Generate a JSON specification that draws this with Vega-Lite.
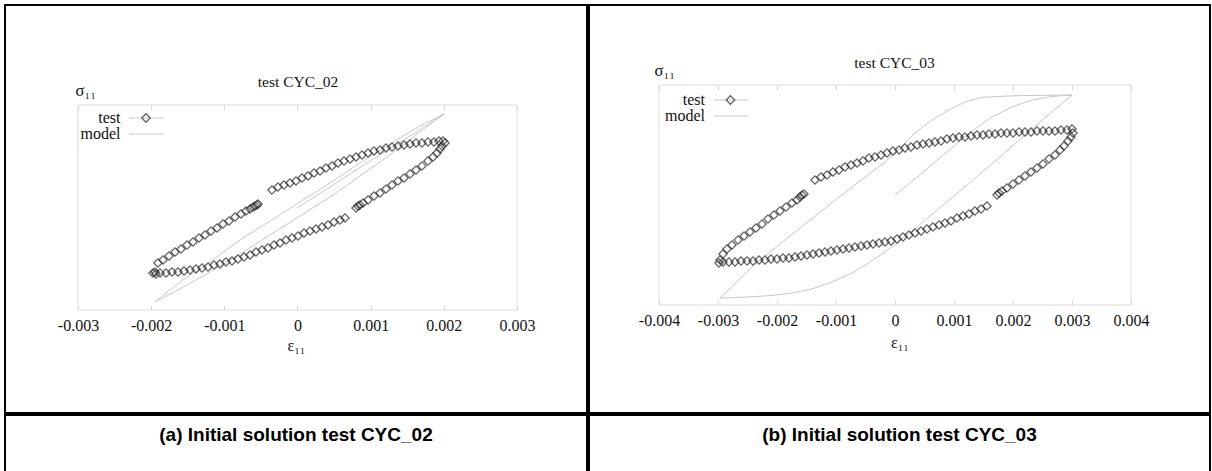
{
 "$schema": "https://vega.github.io/schema/vega-lite/v6.json",
 "padding": {"left": 4, "top": 4, "right": 0, "bottom": 0},
 "background": "white",
 "config": {"view": {"stroke": "#000", "strokeWidth": 2}, "concat": {"spacing": 0}, "font": "Liberation Serif"},
 "datasets": {
  "a_test": [
   {"strain":-0.001947,"stress":-188.8},{"strain":-0.001907,"stress":-162.4},{"strain":-0.001838,"stress":-153.7},{"strain":-0.001756,"stress":-141.9},{"strain":-0.001674,"stress":-130.2},{"strain":-0.001592,"stress":-121.5},{"strain":-0.001510,"stress":-109.8},{"strain":-0.001428,"stress":-101.0},{"strain":-0.001346,"stress":-89.3},{"strain":-0.001264,"stress":-80.5},{"strain":-0.001182,"stress":-68.8},{"strain":-0.001100,"stress":-60.0},{"strain":-0.001018,"stress":-48.3},{"strain":-0.000936,"stress":-39.5},{"strain":-0.000854,"stress":-27.8},{"strain":-0.000772,"stress":-19.0},{"strain":-0.000704,"stress":-10.2},{"strain":-0.000649,"stress":-4.4},{"strain":-0.000608,"stress":1.5},{"strain":-0.000581,"stress":4.4},{"strain":-0.000553,"stress":7.3},{"strain":-0.000540,"stress":10.2},
   {"strain":-0.000349,"stress":51.2},{"strain":-0.000267,"stress":60.0},{"strain":-0.000185,"stress":65.9},{"strain":-0.000103,"stress":71.7},{"strain":-0.000021,"stress":77.6},{"strain":0.000062,"stress":86.3},{"strain":0.000144,"stress":92.2},{"strain":0.000226,"stress":101.0},{"strain":0.000308,"stress":106.8},{"strain":0.000390,"stress":115.6},{"strain":0.000472,"stress":121.5},{"strain":0.000554,"stress":130.2},{"strain":0.000636,"stress":136.1},{"strain":0.000718,"stress":142.0},{"strain":0.000800,"stress":147.8},{"strain":0.000882,"stress":153.7},{"strain":0.000964,"stress":159.5},{"strain":0.001046,"stress":165.4},{"strain":0.001128,"stress":168.3},{"strain":0.001210,"stress":174.1},{"strain":0.001292,"stress":177.1},{"strain":0.001374,"stress":180.0},{"strain":0.001456,"stress":182.9},{"strain":0.001538,"stress":185.9},{"strain":0.001620,"stress":188.8},{"strain":0.001701,"stress":188.8},{"strain":0.001783,"stress":191.7},{"strain":0.001865,"stress":191.7},{"strain":0.001934,"stress":194.6},{"strain":0.001989,"stress":194.6},{"strain":0.002016,"stress":188.8},
   {"strain":-0.001975,"stress":-191.7},{"strain":-0.001934,"stress":-194.6},{"strain":-0.001879,"stress":-191.7},{"strain":-0.001797,"stress":-191.7},{"strain":-0.001715,"stress":-188.8},{"strain":-0.001633,"stress":-188.8},{"strain":-0.001551,"stress":-185.9},{"strain":-0.001469,"stress":-182.9},{"strain":-0.001387,"stress":-180.0},{"strain":-0.001305,"stress":-177.1},{"strain":-0.001223,"stress":-174.1},{"strain":-0.001141,"stress":-168.3},{"strain":-0.001059,"stress":-165.4},{"strain":-0.000977,"stress":-159.5},{"strain":-0.000895,"stress":-156.6},{"strain":-0.000813,"stress":-150.7},{"strain":-0.000731,"stress":-144.9},{"strain":-0.000649,"stress":-139.0},{"strain":-0.000567,"stress":-130.2},{"strain":-0.000485,"stress":-124.4},{"strain":-0.000403,"stress":-118.5},{"strain":-0.000321,"stress":-109.8},{"strain":-0.000239,"stress":-103.9},{"strain":-0.000157,"stress":-95.1},{"strain":-0.000075,"stress":-89.3},{"strain":0.000007,"stress":-83.4},{"strain":0.000089,"stress":-74.6},{"strain":0.000171,"stress":-68.8},{"strain":0.000253,"stress":-62.9},{"strain":0.000335,"stress":-57.1},{"strain":0.000417,"stress":-51.2},{"strain":0.000499,"stress":-42.4},{"strain":0.000581,"stress":-36.6},{"strain":0.000649,"stress":-30.7},
   {"strain":0.000800,"stress":-1.5},{"strain":0.000827,"stress":4.4},{"strain":0.000854,"stress":7.3},{"strain":0.000896,"stress":13.2},{"strain":0.000964,"stress":22.0},{"strain":0.001046,"stress":33.7},{"strain":0.001128,"stress":42.4},{"strain":0.001210,"stress":54.1},{"strain":0.001292,"stress":65.9},{"strain":0.001374,"stress":77.6},{"strain":0.001456,"stress":86.3},{"strain":0.001538,"stress":98.0},{"strain":0.001620,"stress":109.8},{"strain":0.001701,"stress":121.5},{"strain":0.001783,"stress":136.1},{"strain":0.001852,"stress":147.8},{"strain":0.001907,"stress":159.5},{"strain":0.001947,"stress":171.2},{"strain":0.001975,"stress":180.0}
  ],
  "a_model": [
   {"strain":0,"stress":0},{"strain":0.000444,"stress":60.0},{"strain":0.000991,"stress":136.1},{"strain":0.001538,"stress":209.3},{"strain":0.002002,"stress":273.7},
   {"strain":0.001674,"stress":221.0},{"strain":0.001264,"stress":153.7},{"strain":0.000854,"stress":92.2},{"strain":0.000444,"stress":30.7},{"strain":0.000034,"stress":-24.9},{"strain":-0.000376,"stress":-80.5},{"strain":-0.000786,"stress":-136.1},{"strain":-0.001196,"stress":-188.8},{"strain":-0.001606,"stress":-238.5},{"strain":-0.001948,"stress":-275.7},
   {"strain":-0.001606,"stress":-218.1},{"strain":-0.001196,"stress":-159.5},{"strain":-0.000786,"stress":-95.1},{"strain":-0.000376,"stress":-39.5},{"strain":0.000034,"stress":16.1},{"strain":0.000444,"stress":71.7},{"strain":0.000854,"stress":130.2},{"strain":0.001264,"stress":185.9},{"strain":0.001674,"stress":238.5},{"strain":0.002002,"stress":273.7}
  ],
  "b_test": [
   {"strain":-0.002966,"stress":-177.3},{"strain":-0.002915,"stress":-160.9},{"strain":-0.002847,"stress":-147.3},{"strain":-0.002763,"stress":-136.4},{"strain":-0.002661,"stress":-122.7},{"strain":-0.002559,"stress":-111.8},{"strain":-0.002458,"stress":-100.9},{"strain":-0.002356,"stress":-90.0},{"strain":-0.002254,"stress":-79.1},{"strain":-0.002153,"stress":-65.5},{"strain":-0.002051,"stress":-54.5},{"strain":-0.001949,"stress":-43.6},{"strain":-0.001847,"stress":-32.7},{"strain":-0.001746,"stress":-21.8},{"strain":-0.001661,"stress":-13.6},{"strain":-0.001610,"stress":-5.5},{"strain":-0.001576,"stress":0},{"strain":-0.001542,"stress":2.7},
   {"strain":-0.001356,"stress":40.9},{"strain":-0.001254,"stress":49.1},{"strain":-0.001153,"stress":54.5},{"strain":-0.001051,"stress":62.7},{"strain":-0.000949,"stress":68.2},{"strain":-0.000847,"stress":76.4},{"strain":-0.000746,"stress":81.8},{"strain":-0.000644,"stress":87.3},{"strain":-0.000542,"stress":92.7},{"strain":-0.000441,"stress":100.9},{"strain":-0.000339,"stress":103.6},{"strain":-0.000237,"stress":109.1},{"strain":-0.000136,"stress":114.5},{"strain":-0.000034,"stress":120.0},{"strain":0.000068,"stress":122.7},{"strain":0.000169,"stress":128.2},{"strain":0.000271,"stress":130.9},{"strain":0.000373,"stress":136.4},{"strain":0.000475,"stress":139.1},{"strain":0.000576,"stress":141.8},{"strain":0.000678,"stress":144.5},{"strain":0.000780,"stress":147.3},{"strain":0.000881,"stress":152.7},{"strain":0.000983,"stress":155.5},{"strain":0.001085,"stress":158.2},{"strain":0.001186,"stress":158.2},{"strain":0.001288,"stress":160.9},{"strain":0.001390,"stress":163.6},{"strain":0.001492,"stress":163.6},{"strain":0.001593,"stress":166.4},{"strain":0.001695,"stress":166.4},{"strain":0.001797,"stress":169.1},{"strain":0.001898,"stress":169.1},{"strain":0.002000,"stress":169.1},{"strain":0.002102,"stress":171.8},{"strain":0.002203,"stress":171.8},{"strain":0.002305,"stress":171.8},{"strain":0.002407,"stress":174.5},{"strain":0.002508,"stress":174.5},{"strain":0.002610,"stress":174.5},{"strain":0.002712,"stress":174.5},{"strain":0.002814,"stress":177.3},{"strain":0.002915,"stress":177.3},{"strain":0.003000,"stress":180.0},
   {"strain":-0.002983,"stress":-185.5},{"strain":-0.002915,"stress":-182.7},{"strain":-0.002814,"stress":-182.7},{"strain":-0.002712,"stress":-182.7},{"strain":-0.002610,"stress":-180.0},{"strain":-0.002508,"stress":-180.0},{"strain":-0.002407,"stress":-180.0},{"strain":-0.002305,"stress":-177.3},{"strain":-0.002203,"stress":-177.3},{"strain":-0.002102,"stress":-174.5},{"strain":-0.002000,"stress":-174.5},{"strain":-0.001898,"stress":-171.8},{"strain":-0.001797,"stress":-171.8},{"strain":-0.001695,"stress":-169.1},{"strain":-0.001593,"stress":-166.4},{"strain":-0.001492,"stress":-163.6},{"strain":-0.001390,"stress":-160.9},{"strain":-0.001288,"stress":-158.2},{"strain":-0.001186,"stress":-155.5},{"strain":-0.001085,"stress":-152.7},{"strain":-0.000983,"stress":-150.0},{"strain":-0.000881,"stress":-147.3},{"strain":-0.000780,"stress":-144.5},{"strain":-0.000678,"stress":-141.8},{"strain":-0.000576,"stress":-139.1},{"strain":-0.000475,"stress":-136.4},{"strain":-0.000373,"stress":-133.6},{"strain":-0.000271,"stress":-130.9},{"strain":-0.000169,"stress":-128.2},{"strain":-0.000068,"stress":-125.5},{"strain":0.000034,"stress":-120.0},{"strain":0.000136,"stress":-114.5},{"strain":0.000237,"stress":-109.1},{"strain":0.000339,"stress":-103.6},{"strain":0.000441,"stress":-98.2},{"strain":0.000542,"stress":-92.7},{"strain":0.000644,"stress":-87.3},{"strain":0.000746,"stress":-81.8},{"strain":0.000847,"stress":-76.4},{"strain":0.000949,"stress":-70.9},{"strain":0.001051,"stress":-62.7},{"strain":0.001153,"stress":-57.3},{"strain":0.001254,"stress":-51.8},{"strain":0.001356,"stress":-43.6},{"strain":0.001458,"stress":-38.2},{"strain":0.001559,"stress":-30.0},
   {"strain":0.001729,"stress":0},{"strain":0.001763,"stress":5.5},{"strain":0.001814,"stress":10.9},{"strain":0.001898,"stress":19.1},{"strain":0.002000,"stress":30.0},{"strain":0.002102,"stress":40.9},{"strain":0.002203,"stress":51.8},{"strain":0.002305,"stress":62.7},{"strain":0.002407,"stress":73.6},{"strain":0.002508,"stress":84.5},{"strain":0.002610,"stress":98.2},{"strain":0.002712,"stress":109.1},{"strain":0.002797,"stress":122.7},{"strain":0.002864,"stress":133.6},{"strain":0.002932,"stress":147.3},{"strain":0.002983,"stress":158.2},{"strain":0.003017,"stress":169.1}
  ],
  "b_model": [
   {"strain":0,"stress":0},{"strain":0.000458,"stress":60.0},{"strain":0.000898,"stress":120.0},{"strain":0.001305,"stress":174.5},{"strain":0.001644,"stress":212.7},{"strain":0.001983,"stress":240.0},{"strain":0.002322,"stress":259.1},{"strain":0.002661,"stress":268.6},{"strain":0.003000,"stress":272.7},
   {"strain":0.002661,"stress":226.4},{"strain":0.002322,"stress":180.0},{"strain":0.001814,"stress":109.1},{"strain":0.001305,"stress":38.2},{"strain":0.000797,"stress":-30.0},{"strain":0.000288,"stress":-98.2},{"strain":0.000034,"stress":-130.9},{"strain":-0.000220,"stress":-160.9},{"strain":-0.000475,"stress":-188.2},{"strain":-0.000729,"stress":-212.7},{"strain":-0.001068,"stress":-237.3},{"strain":-0.001407,"stress":-256.4},{"strain":-0.001746,"stress":-267.3},{"strain":-0.002085,"stress":-274.1},{"strain":-0.002508,"stress":-278.2},{"strain":-0.002966,"stress":-280.9},
   {"strain":-0.002712,"stress":-242.7},{"strain":-0.002424,"stress":-196.4},{"strain":-0.001864,"stress":-122.7},{"strain":-0.001288,"stress":-49.1},{"strain":-0.000729,"stress":21.8},{"strain":-0.000169,"stress":90.0},{"strain":0.000119,"stress":133.6},{"strain":0.000339,"stress":169.1},{"strain":0.000627,"stress":204.5},{"strain":0.000915,"stress":231.8},{"strain":0.001186,"stress":253.6},{"strain":0.001475,"stress":266.5},{"strain":0.002034,"stress":270.8},{"strain":0.003000,"stress":272.7}
  ]
 },
 "spacing": 0,
 "resolve": {"scale": {"color": "independent", "shape": "independent"}, "legend": {"color": "independent", "shape": "independent"}},
 "hconcat": [
  {
   "spacing": 0,
   "resolve": {"scale": {"color": "independent", "shape": "independent"}, "legend": {"color": "independent", "shape": "independent"}},
   "vconcat": [
    {
     "width": 582, "height": 408,
     "title": {"text": "test CYC_02", "offset": -92, "baseline": "middle", "dx": 2, "fontSize": 15.5, "font": "Liberation Serif", "fontWeight": "normal", "color": "#111"},
     "resolve": {"axis": {"x": "independent", "y": "independent"}},
     "layer": [
      {
       "data": {"values": [{}]},
       "mark": {"type": "rect", "fill": "transparent", "stroke": "#dcdcdc", "strokeWidth": 1},
       "encoding": {
        "x": {"datum": -0.003, "type": "quantitative", "scale": {"domain": [-0.0039977, 0.0039567], "nice": false, "zero": false}, "axis": null},
        "x2": {"datum": 0.003},
        "y": {"datum": -300, "type": "quantitative", "scale": {"domain": [-601.46, 592.68], "nice": false, "zero": false}, "axis": null},
        "y2": {"datum": 300}
       }
      },
      {
       "data": {"name": "a_model"},
       "mark": {"type": "line", "strokeWidth": 1},
       "encoding": {
        "x": {"field": "strain", "type": "quantitative", "scale": {"domain": [-0.0039977, 0.0039567], "nice": false, "zero": false},
              "axis": {"orient": "bottom", "offset": -103, "values": [-0.003, -0.002, -0.001, 0, 0.001, 0.002, 0.003], "labelExpr": "replace(format(datum.value, '.3~f'), '\u2212', '-')", "domain": false, "grid": false, "tickSize": -5, "tickColor": "#d8d8d8", "labelFont": "Liberation Serif", "labelFontSize": 16, "labelColor": "#111", "labelPadding": 12, "labelOverlap": false, "labelFlush": false, "title": "ε₁₁", "titleFont": "Liberation Serif", "titleFontSize": 16, "titleFontWeight": "normal", "titleColor": "#111", "titlePadding": 4}},
        "y": {"field": "stress", "type": "quantitative", "scale": {"domain": [-601.46, 592.68], "nice": false, "zero": false},
              "axis": {"orient": "left", "offset": -73, "domain": false, "ticks": false, "labels": false, "grid": false, "title": "σ₁₁", "titleAngle": 0, "titleAlign": "left", "titleBaseline": "alphabetic", "titleX": -3, "titleY": 90, "titleFont": "Liberation Serif", "titleFontSize": 16.5, "titleFontWeight": "normal", "titleColor": "#111"}},
        "order": {"value": null},
        "color": {"datum": "model", "type": "nominal", "scale": {"domain": ["test", "model"], "range": ["#c8c8c8", "#c8c8c8"]},
                  "legend": {"orient": "none", "legendX": 133.5, "legendY": 105, "title": null, "symbolType": "M-5,0H5", "symbolSize": 49, "symbolStrokeWidth": 1, "symbolStrokeColor": "#c8c8c8", "labelAlign": "right", "labelOffset": -34, "labelFont": "Liberation Serif", "labelFontSize": 16, "labelColor": "#111", "rowPadding": 0, "padding": 0}}
       }
      },
      {
       "data": {"name": "a_test"},
       "mark": {"type": "point", "filled": false, "stroke": "#262626", "strokeWidth": 1.3, "size": 68},
       "encoding": {
        "x": {"field": "strain", "type": "quantitative", "axis": {"orient": "top", "offset": -100, "values": [-0.003, -0.002, -0.001, 0, 0.001, 0.002, 0.003], "labels": false, "domain": false, "grid": false, "tickSize": -5, "tickColor": "#d8d8d8", "title": null}},
        "y": {"field": "stress", "type": "quantitative", "axis": null},
        "shape": {"datum": "test", "type": "nominal", "scale": {"domain": ["test"], "range": ["diamond"]},
                  "legend": {"orient": "none", "legendX": 133, "legendY": 105, "title": null, "symbolSize": 72, "symbolStrokeColor": "#262626", "symbolFillColor": "white", "symbolStrokeWidth": 1.3, "labelOpacity": 0, "labelFont": "Liberation Serif", "labelFontSize": 16, "rowPadding": 0, "padding": 0}}
       }
      }
     ]
    },
    {
     "width": 582, "height": 70,
     "data": {"values": [{"caption": "(a) Initial solution test CYC_02"}]},
     "mark": {"type": "text", "font": "Liberation Sans", "fontWeight": "bold", "fontSize": 19, "dy": -15, "color": "#000"},
     "encoding": {
      "x": {"datum": 0.5, "type": "quantitative", "scale": {"domain": [0, 1]}, "axis": null},
      "y": {"datum": 0.5, "type": "quantitative", "scale": {"domain": [0, 1]}, "axis": null},
      "text": {"field": "caption", "type": "nominal"}
     }
    }
   ]
  },
  {
   "spacing": 0,
   "resolve": {"scale": {"color": "independent", "shape": "independent"}, "legend": {"color": "independent", "shape": "independent"}},
   "vconcat": [
    {
     "width": 621, "height": 408,
     "title": {"text": "test CYC_03", "offset": -73, "baseline": "middle", "dx": -5, "fontSize": 15.5, "font": "Liberation Serif", "fontWeight": "normal", "color": "#111"},
     "resolve": {"axis": {"x": "independent", "y": "independent"}},
     "layer": [
      {
       "data": {"values": [{}]},
       "mark": {"type": "rect", "fill": "transparent", "stroke": "#dcdcdc", "strokeWidth": 1},
       "encoding": {
        "x": {"datum": -0.004, "type": "quantitative", "scale": {"domain": [-0.0051864, 0.005339], "nice": false, "zero": false}, "axis": null},
        "x2": {"datum": 0.004},
        "y": {"datum": -300, "type": "quantitative", "scale": {"domain": [-594.55, 518.18], "nice": false, "zero": false}, "axis": null},
        "y2": {"datum": 300}
       }
      },
      {
       "data": {"name": "b_model"},
       "mark": {"type": "line", "strokeWidth": 1},
       "encoding": {
        "x": {"field": "strain", "type": "quantitative", "scale": {"domain": [-0.0051864, 0.005339], "nice": false, "zero": false},
              "axis": {"orient": "bottom", "offset": -108, "values": [-0.004, -0.003, -0.002, -0.001, 0, 0.001, 0.002, 0.003, 0.004], "labelExpr": "replace(format(datum.value, '.3~f'), '\u2212', '-')", "domain": false, "grid": false, "tickSize": -5, "tickColor": "#d8d8d8", "labelFont": "Liberation Serif", "labelFontSize": 16, "labelColor": "#111", "labelPadding": 12, "labelOverlap": false, "labelFlush": false, "title": "ε₁₁", "titleFont": "Liberation Serif", "titleFontSize": 16, "titleFontWeight": "normal", "titleColor": "#111", "titlePadding": 6}},
        "y": {"field": "stress", "type": "quantitative", "scale": {"domain": [-594.55, 518.18], "nice": false, "zero": false},
              "axis": {"orient": "left", "offset": -70, "domain": false, "ticks": false, "labels": false, "grid": false, "title": "σ₁₁", "titleAngle": 0, "titleAlign": "left", "titleBaseline": "alphabetic", "titleX": -5, "titleY": 70, "titleFont": "Liberation Serif", "titleFontSize": 16.5, "titleFontWeight": "normal", "titleColor": "#111"}},
        "order": {"value": null},
        "color": {"datum": "model", "type": "nominal", "scale": {"domain": ["test", "model"], "range": ["#c8c8c8", "#c8c8c8"]},
                  "legend": {"orient": "none", "legendX": 134, "legendY": 87, "title": null, "symbolType": "M-5,0H5", "symbolSize": 49, "symbolStrokeWidth": 1, "symbolStrokeColor": "#c8c8c8", "labelAlign": "right", "labelOffset": -34, "labelFont": "Liberation Serif", "labelFontSize": 16, "labelColor": "#111", "rowPadding": 0, "padding": 0}}
       }
      },
      {
       "data": {"name": "b_test"},
       "mark": {"type": "point", "filled": false, "stroke": "#262626", "strokeWidth": 1.3, "size": 68},
       "encoding": {
        "x": {"field": "strain", "type": "quantitative", "axis": {"orient": "top", "offset": -80, "values": [-0.004, -0.003, -0.002, -0.001, 0, 0.001, 0.002, 0.003, 0.004], "labels": false, "domain": false, "grid": false, "tickSize": -5, "tickColor": "#d8d8d8", "title": null}},
        "y": {"field": "stress", "type": "quantitative", "axis": null},
        "shape": {"datum": "test", "type": "nominal", "scale": {"domain": ["test"], "range": ["diamond"]},
                  "legend": {"orient": "none", "legendX": 133.5, "legendY": 87, "title": null, "symbolSize": 72, "symbolStrokeColor": "#262626", "symbolFillColor": "white", "symbolStrokeWidth": 1.3, "labelOpacity": 0, "labelFont": "Liberation Serif", "labelFontSize": 16, "rowPadding": 0, "padding": 0}}
       }
      }
     ]
    },
    {
     "width": 621, "height": 70,
     "data": {"values": [{"caption": "(b) Initial solution test CYC_03"}]},
     "mark": {"type": "text", "font": "Liberation Sans", "fontWeight": "bold", "fontSize": 19, "dy": -15, "color": "#000"},
     "encoding": {
      "x": {"datum": 0.5, "type": "quantitative", "scale": {"domain": [0, 1]}, "axis": null},
      "y": {"datum": 0.5, "type": "quantitative", "scale": {"domain": [0, 1]}, "axis": null},
      "text": {"field": "caption", "type": "nominal"}
     }
    }
   ]
  }
 ]
}
